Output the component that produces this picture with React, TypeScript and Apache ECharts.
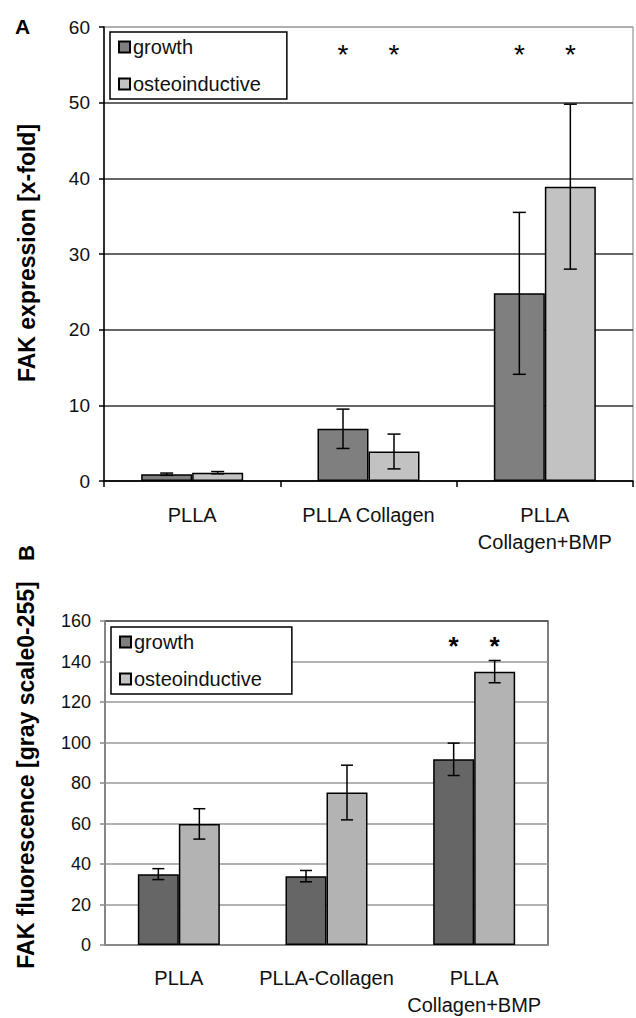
import React, { useEffect, useRef } from "react";
import * as echarts from "echarts";

// ---------- Panel A data ----------
const categoriesA = ["PLLA", "PLLA Collagen", "PLLA\nCollagen+BMP"];
const growthA = [0.9, 6.9, 24.8];
const growthErrA = [0.15, 2.6, 10.7];
const osteoA = [1.1, 3.9, 38.9];
const osteoErrA = [0.15, 2.3, 10.9];
const starsGrowthA = [null, 56.3, 56.3];
const starsOsteoA = [null, 56.3, 56.3];
const yMinA = 0;
const yMaxA = 60;
const yStepA = 10;

// ---------- Panel B data ----------
const categoriesB = ["PLLA", "PLLA-Collagen", "PLLA\nCollagen+BMP"];
const growthB = [35, 34, 91.7];
const growthErrB = [2.7, 2.8, 8];
const osteoB = [59.8, 75.3, 135];
const osteoErrB = [7.5, 13.5, 5.5];
const starsGrowthB = [null, null, 147.5];
const starsOsteoB = [null, null, 147.5];
const yMinB = 0;
const yMaxB = 160;
const yStepB = 20;

const seriesNames = ["growth", "osteoinductive"];

const FONT = "'Liberation Sans', Arial, Helvetica, sans-serif";

export default function App() {
  const ref = useRef<HTMLDivElement>(null);

  useEffect(() => {
    const chart = echarts.init(ref.current!, null, { renderer: "svg" });

    const barWA = 51;
    const barWB = 41;

    const errRender = (barW: number, cap: number, pos: number) => (params: any, api: any) => {
      const c = api.value(0);
      const lo = api.value(1);
      const hi = api.value(2);
      const cx = api.coord([c, 0])[0] + (pos * barW) / 2;
      const yLo = api.coord([c, lo])[1];
      const yHi = api.coord([c, hi])[1];
      const style = { stroke: "#000", lineWidth: 1.5 };
      return {
        type: "group",
        children: [
          { type: "line", shape: { x1: cx, y1: yLo, x2: cx, y2: yHi }, style },
          { type: "line", shape: { x1: cx - cap / 2, y1: yHi, x2: cx + cap / 2, y2: yHi }, style },
          { type: "line", shape: { x1: cx - cap / 2, y1: yLo, x2: cx + cap / 2, y2: yLo }, style },
        ],
      };
    };

    const starRender = (barW: number, pos: number, size: number, weight: string) => (params: any, api: any) => {
      const c = api.value(0);
      const v = api.value(1);
      const p = api.coord([c, v]);
      return {
        type: "text",
        x: p[0] + (pos * barW) / 2,
        y: p[1],
        style: {
          text: "*",
          fontSize: size,
          fontWeight: weight,
          fontFamily: FONT,
          fill: "#000",
          align: "center",
          verticalAlign: "middle",
        },
      };
    };

    const errData = (vals: number[], errs: number[]) => vals.map((v, i) => [i, v - errs[i], v + errs[i]]);
    const starData = (arr: (number | null)[]) =>
      arr.map((v, i) => (v == null ? null : [i, v])).filter((d) => d != null);

    const splitColors = (n: number, c: string, top: string) => {
      const a: string[] = [];
      for (let i = 0; i < n; i++) a.push(c);
      a.push(top);
      return a;
    };

    const barStyle = (color: string) => ({ color, borderColor: "#000", borderWidth: 1.5 });

    const legendBase = {
      data: seriesNames,
      orient: "vertical",
      icon: "rect",
      itemWidth: 11,
      itemHeight: 11,
      itemGap: 17,
      borderColor: "#000",
      borderWidth: 1.5,
      backgroundColor: "#fff",
      textStyle: { fontSize: 20, color: "#111", fontFamily: FONT, padding: [0, 0, 0, -2] },
      selectedMode: false,
    };

    const option: any = {
      animation: false,
      backgroundColor: "#fff",
      textStyle: { fontFamily: FONT },
      grid: [
        { left: 104, top: 27, width: 529, height: 454, show: true, borderColor: "#aaa", borderWidth: 1.5, backgroundColor: "transparent" },
        { left: 105, top: 621, width: 443, height: 326, show: true, borderColor: "#555", borderWidth: 1.5, backgroundColor: "transparent" },
      ],
      legend: [
        { ...legendBase, left: 110, top: 32, padding: [5, 26, 5, 8] },
        { ...legendBase, left: 111, top: 627, padding: [5, 30, 5, 8] },
      ],
      xAxis: [
        {
          type: "category",
          gridIndex: 0,
          data: categoriesA,
          axisLine: { show: true, lineStyle: { color: "#000", width: 1.5 } },
          axisTick: { show: true, length: 6, lineStyle: { color: "#000", width: 1.5 } },
          axisLabel: { fontSize: 20, color: "#111", margin: 20, lineHeight: 27, fontFamily: FONT, interval: 0 },
          splitLine: { show: false },
        },
        {
          type: "category",
          gridIndex: 1,
          data: categoriesB,
          axisLine: { show: true, lineStyle: { color: "#888", width: 1.5 } },
          axisTick: { show: false },
          axisLabel: { fontSize: 20, color: "#111", margin: 19, lineHeight: 27, fontFamily: FONT, interval: 0 },
          splitLine: { show: false },
        },
      ],
      yAxis: [
        {
          type: "value",
          gridIndex: 0,
          min: yMinA,
          max: yMaxA,
          interval: yStepA,
          axisLine: { show: true, lineStyle: { color: "#000", width: 1.5 } },
          axisTick: { show: true, length: 5, lineStyle: { color: "#000", width: 1.5 } },
          axisLabel: { fontSize: 19, color: "#111", margin: 14, fontFamily: FONT },
          splitLine: { show: true, lineStyle: { color: splitColors(6, "#333", "#aaa"), width: 1.5 } },
        },
        {
          type: "value",
          gridIndex: 1,
          min: yMinB,
          max: yMaxB,
          interval: yStepB,
          axisLine: { show: true, lineStyle: { color: "#888", width: 1.5 } },
          axisTick: { show: true, length: 5, lineStyle: { color: "#888", width: 1.5 } },
          axisLabel: { fontSize: 18, color: "#111", margin: 14, fontFamily: FONT },
          splitLine: { show: true, lineStyle: { color: splitColors(8, "#999", "#555"), width: 1.5 } },
        },
      ],
      series: [
        { name: "growth", type: "bar", xAxisIndex: 0, yAxisIndex: 0, data: growthA, barWidth: barWA, barGap: "0%", itemStyle: barStyle("#7f7f7f") },
        { name: "osteoinductive", type: "bar", xAxisIndex: 0, yAxisIndex: 0, data: osteoA, barWidth: barWA, barGap: "0%", itemStyle: barStyle("#c2c2c2") },
        { name: "growth", type: "bar", xAxisIndex: 1, yAxisIndex: 1, data: growthB, barWidth: barWB, barGap: "0%", itemStyle: barStyle("#666666") },
        { name: "osteoinductive", type: "bar", xAxisIndex: 1, yAxisIndex: 1, data: osteoB, barWidth: barWB, barGap: "0%", itemStyle: barStyle("#b3b3b3") },
        { type: "custom", xAxisIndex: 0, yAxisIndex: 0, data: errData(growthA, growthErrA), renderItem: errRender(barWA, 13, -1), encode: { x: 0, y: [1, 2] }, z: 5, silent: true },
        { type: "custom", xAxisIndex: 0, yAxisIndex: 0, data: errData(osteoA, osteoErrA), renderItem: errRender(barWA, 13, 1), encode: { x: 0, y: [1, 2] }, z: 5, silent: true },
        { type: "custom", xAxisIndex: 1, yAxisIndex: 1, data: errData(growthB, growthErrB), renderItem: errRender(barWB, 12, -1), encode: { x: 0, y: [1, 2] }, z: 5, silent: true },
        { type: "custom", xAxisIndex: 1, yAxisIndex: 1, data: errData(osteoB, osteoErrB), renderItem: errRender(barWB, 12, 1), encode: { x: 0, y: [1, 2] }, z: 5, silent: true },
        { type: "custom", xAxisIndex: 0, yAxisIndex: 0, data: starData(starsGrowthA), renderItem: starRender(barWA, -1, 28, "normal"), encode: { x: 0, y: 1 }, z: 6, silent: true },
        { type: "custom", xAxisIndex: 0, yAxisIndex: 0, data: starData(starsOsteoA), renderItem: starRender(barWA, 1, 28, "normal"), encode: { x: 0, y: 1 }, z: 6, silent: true },
        { type: "custom", xAxisIndex: 1, yAxisIndex: 1, data: starData(starsGrowthB), renderItem: starRender(barWB, -1, 26, "bold"), encode: { x: 0, y: 1 }, z: 6, silent: true },
        { type: "custom", xAxisIndex: 1, yAxisIndex: 1, data: starData(starsOsteoB), renderItem: starRender(barWB, 1, 26, "bold"), encode: { x: 0, y: 1 }, z: 6, silent: true },
      ],
      graphic: [
        { type: "text", left: 15, top: 16, style: { text: "A", fontSize: 21, fontWeight: "bold", fontFamily: FONT, fill: "#000" } },
        {
          type: "text",
          x: 27,
          y: 253,
          rotation: Math.PI / 2,
          style: { text: "FAK expression [x-fold]", fontSize: 23, fontWeight: "bold", fontFamily: FONT, fill: "#000", align: "center", verticalAlign: "middle" },
        },
        {
          type: "text",
          x: 26,
          y: 553,
          rotation: Math.PI / 2,
          style: { text: "B", fontSize: 22, fontWeight: "bold", fontFamily: FONT, fill: "#000", align: "center", verticalAlign: "middle" },
        },
        {
          type: "text",
          x: 26,
          y: 775,
          rotation: Math.PI / 2,
          style: { text: "FAK fluorescence [gray scale0-255]", fontSize: 23, fontWeight: "bold", fontFamily: FONT, fill: "#000", align: "center", verticalAlign: "middle" },
        },
      ],
    };

    chart.setOption(option);
    return () => chart.dispose();
  }, []);

  return <div ref={ref} style={{ position: "absolute", left: 0, top: 0, width: 636, height: 1018 }} />;
}
